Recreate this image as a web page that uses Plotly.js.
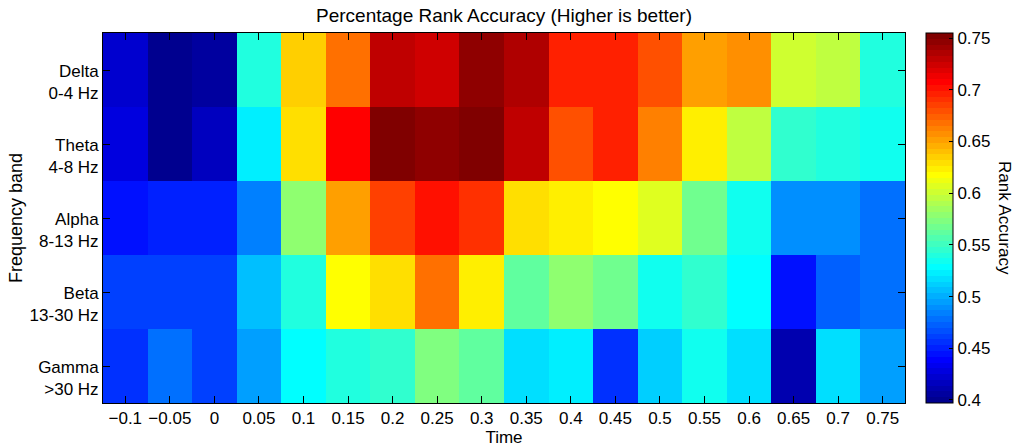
<!DOCTYPE html>
<html>
<head>
<meta charset="utf-8">
<script src="https://cdn.plot.ly/plotly-3.0.1.min.js"></script>
<style>
  html, body { margin: 0; padding: 0; background: #fff; }
  #chart { width: 1016px; height: 447px; }
</style>
</head>
<body>
<div id="chart"></div>
<script>
// Time bins (s)
const times = [-0.1, -0.05, 0, 0.05, 0.1, 0.15, 0.2, 0.25, 0.3, 0.35, 0.4, 0.45, 0.5, 0.55, 0.6, 0.65, 0.7, 0.75];
const timeLabels = ['\u22120.1', '\u22120.05', '0', '0.05', '0.1', '0.15', '0.2', '0.25', '0.3', '0.35', '0.4', '0.45', '0.5', '0.55', '0.6', '0.65', '0.7', '0.75'];

// Frequency bands, top to bottom
const bandLabels = ['Delta<br>0-4 Hz', 'Theta<br>4-8 Hz', 'Alpha<br>8-13 Hz', 'Beta<br>13-30 Hz', 'Gamma<br>>30 Hz'];

// Rank accuracy per band over time
const delta = [0.422, 0.399, 0.405, 0.540, 0.634, 0.668, 0.730, 0.724, 0.746, 0.735, 0.696, 0.696, 0.679, 0.651, 0.657, 0.601, 0.595, 0.540];
const theta = [0.428, 0.399, 0.417, 0.523, 0.629, 0.707, 0.751, 0.746, 0.751, 0.730, 0.679, 0.696, 0.663, 0.623, 0.595, 0.545, 0.539, 0.534];
const alpha = [0.444, 0.450, 0.450, 0.484, 0.579, 0.651, 0.685, 0.702, 0.690, 0.629, 0.623, 0.618, 0.607, 0.568, 0.534, 0.489, 0.489, 0.478];
const beta  = [0.461, 0.461, 0.461, 0.506, 0.539, 0.618, 0.629, 0.668, 0.623, 0.562, 0.579, 0.568, 0.534, 0.545, 0.528, 0.444, 0.472, 0.478];
const gamma = [0.456, 0.478, 0.461, 0.495, 0.528, 0.539, 0.545, 0.573, 0.562, 0.517, 0.523, 0.456, 0.512, 0.534, 0.517, 0.411, 0.517, 0.495];

const colorTicks = [0.4, 0.45, 0.5, 0.55, 0.6, 0.65, 0.7, 0.75];

// 64-step jet colormap as a stepped Plotly colorscale
function jetScale(m) {
  const n = Math.ceil(m / 4);
  const u = [];
  for (let i = 1; i <= n; i++) u.push(i / n);
  for (let i = 1; i < n; i++) u.push(1);
  for (let i = n; i >= 1; i--) u.push(i / n);
  const g0 = Math.ceil(n / 2) - (m % 4 === 1 ? 1 : 0);
  const comp = (j, off) => {
    const idx = j - (g0 + 1 + off);
    return (idx >= 0 && idx < u.length) ? u[idx] : 0;
  };
  const scale = [];
  for (let j = 1; j <= m; j++) {
    const r = Math.round(255 * comp(j, n));
    const g = Math.round(255 * comp(j, 0));
    const b = Math.round(255 * comp(j, -n));
    const c = `rgb(${r},${g},${b})`;
    scale.push([(j - 1) / m, c]);
    scale.push([j / m, c]);
  }
  return scale;
}

const font = { family: 'Liberation Sans, Arial, sans-serif', color: '#000' };
const rowIdx = bandLabels.map((_, i) => i);

const trace = {
  type: 'heatmap',
  x: times,
  y: rowIdx,
  z: [delta, theta, alpha, beta, gamma],
  zmin: 0.397,
  zmax: 0.755,
  colorscale: jetScale(64),
  colorbar: {
    x: 1.026, xanchor: 'left', xref: 'paper',
    y: 0.5, yanchor: 'middle', len: 1, lenmode: 'fraction',
    thickness: 27, thicknessmode: 'pixels',
    xpad: 0, ypad: 0,
    outlinewidth: 1, outlinecolor: '#000',
    tickvals: colorTicks,
    ticktext: colorTicks.map(v => String(v)),
    ticks: 'inside', ticklen: 4, tickcolor: '#000',
    tickfont: Object.assign({ size: 17 }, font)
  }
};

const layout = {
  width: 1016, height: 447,
  margin: { l: 103, r: 111, t: 33, b: 44, pad: 0 },
  paper_bgcolor: '#fff', plot_bgcolor: '#fff',
  font: font,
  title: {
    text: 'Percentage Rank Accuracy (Higher is better)',
    font: Object.assign({ size: 19 }, font),
    x: 0.5, xref: 'paper', xanchor: 'center',
    y: 1 - 15 / 447, yref: 'container', yanchor: 'middle'
  },
  xaxis: {
    range: [-0.125, 0.775],
    tickvals: times, ticktext: timeLabels,
    ticks: 'inside', ticklen: 7, tickcolor: '#000', tickwidth: 1,
    showline: true, linecolor: '#000', linewidth: 1, mirror: 'ticks',
    showgrid: false, zeroline: false,
    tickfont: Object.assign({ size: 17 }, font),
    title: { text: 'Time', font: Object.assign({ size: 17 }, font), standoff: 2 },
    automargin: false
  },
  yaxis: {
    range: [4.5, -0.5],
    tickvals: rowIdx, ticktext: bandLabels,
    ticks: 'inside', ticklen: 7, tickcolor: '#000', tickwidth: 1,
    showline: true, linecolor: '#000', linewidth: 1, mirror: 'ticks',
    showgrid: false, zeroline: false,
    tickfont: Object.assign({ size: 17 }, font),
    ticklabelshift: -12,
    title: { text: 'Frequency band', font: Object.assign({ size: 18 }, font), standoff: 2 },
    automargin: false
  },
  annotations: [{
    text: 'Rank Accuracy',
    xref: 'paper', yref: 'paper',
    x: (1005 - 103) / 802, y: 0.5,
    xanchor: 'center', yanchor: 'middle',
    textangle: 90, showarrow: false,
    font: Object.assign({ size: 17 }, font)
  }]
};

Plotly.newPlot('chart', [trace], layout, { displayModeBar: false, staticPlot: true });
</script>
</body>
</html>
